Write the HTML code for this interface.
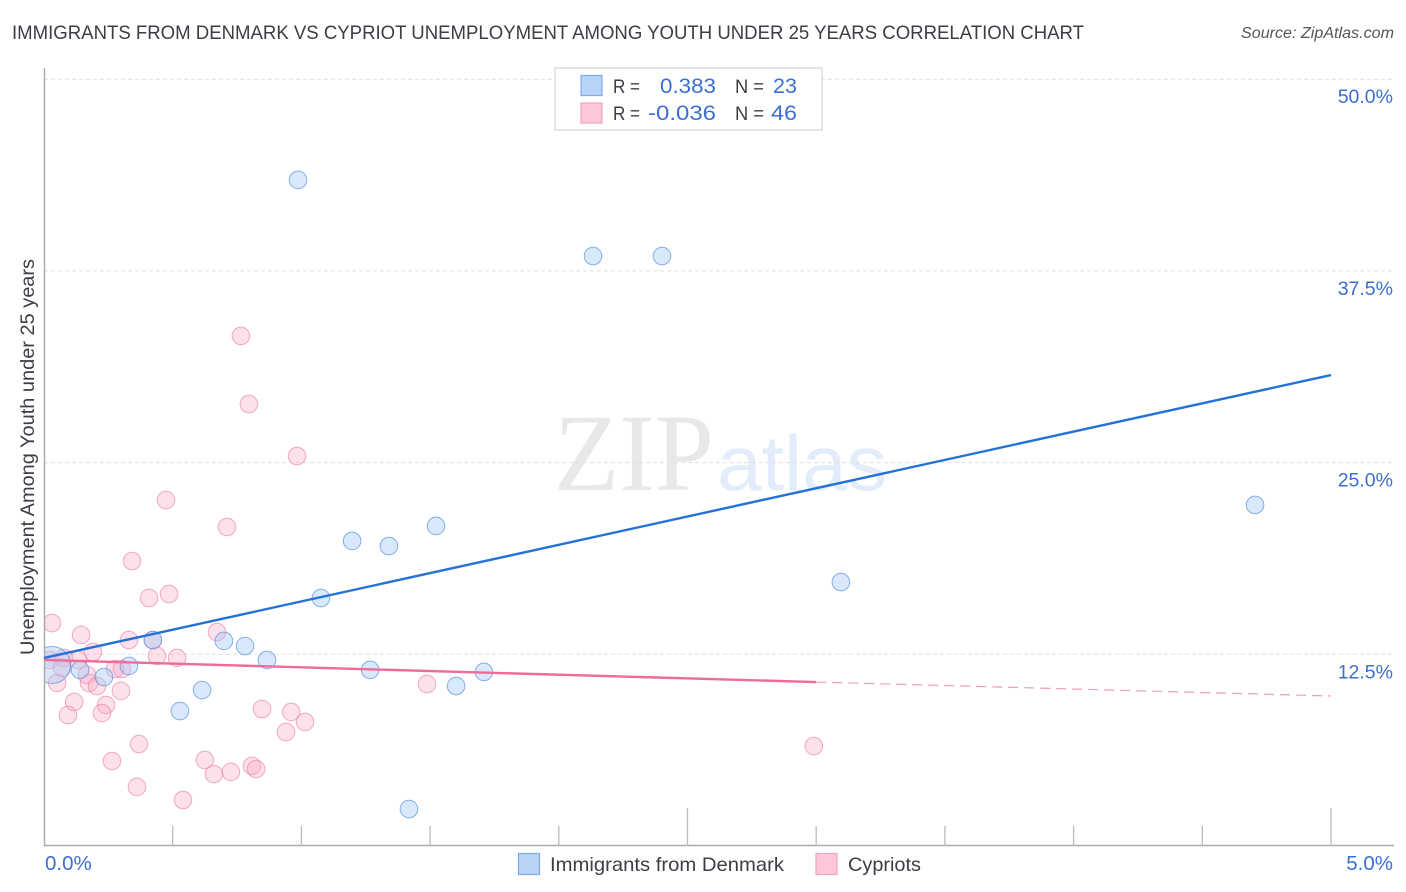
<!DOCTYPE html>
<html lang="en">
<head>
<meta charset="utf-8">
<title>Immigrants from Denmark vs Cypriot Unemployment Among Youth Under 25 Years Correlation Chart</title>
<style>
html,body{margin:0;padding:0;background:#fff;width:1406px;height:892px;overflow:hidden}
svg{display:block}
text{font-family:"Liberation Sans",sans-serif}
</style>
</head>
<body>
<svg id="chart" xmlns="http://www.w3.org/2000/svg" width="1406" height="892" viewBox="0 0 1406 892">
  <text x="12" y="39" font-size="19.5" fill="#3a3e45" textLength="1072" lengthAdjust="spacingAndGlyphs">IMMIGRANTS FROM DENMARK VS CYPRIOT UNEMPLOYMENT AMONG YOUTH UNDER 25 YEARS CORRELATION CHART</text>
  <text x="1241" y="38" font-size="15.5" font-style="italic" fill="#555" textLength="153" lengthAdjust="spacingAndGlyphs">Source: ZipAtlas.com</text>

  <g>
    <text x="554" y="490" font-size="110" fill="#e8e8e8" textLength="160" lengthAdjust="spacingAndGlyphs" style="font-family:'Liberation Serif',serif">ZIP</text>
    <text x="717" y="490" font-size="78" fill="#e2ecfa" textLength="170" lengthAdjust="spacingAndGlyphs">atlas</text>
  </g>

  <g id="grid"></g>
  <g id="points"></g>
  <rect x="0" y="60" width="44" height="786" fill="#fff"/>
  <g id="axes"></g>
  <g id="trends"></g>

  <text transform="translate(34,457) rotate(-90)" font-size="19" fill="#3a3e45" text-anchor="middle" textLength="396" lengthAdjust="spacingAndGlyphs">Unemployment Among Youth under 25 years</text>

  <g>
    <rect x="555" y="68" width="267" height="62" fill="#fff" stroke="#ddd" stroke-width="1.5"/>
    <rect x="581" y="75.500" width="21" height="20" fill="#b9d4f7" stroke="#7fabe6" stroke-width="1.2"/>
    <rect x="581" y="103" width="21" height="20" fill="#fcc8d9" stroke="#f0a3bd" stroke-width="1.2"/>
    <text x="613" y="93" font-size="19" fill="#3a3e45" textLength="27" lengthAdjust="spacingAndGlyphs">R =</text>
    <text x="660" y="93" font-size="21" fill="#3b6fd4" textLength="56" lengthAdjust="spacingAndGlyphs">0.383</text>
    <text x="735" y="93" font-size="19" fill="#3a3e45" textLength="29" lengthAdjust="spacingAndGlyphs">N =</text>
    <text x="773" y="93" font-size="21" fill="#3b6fd4" textLength="24" lengthAdjust="spacingAndGlyphs">23</text>
    <text x="613" y="120" font-size="19" fill="#3a3e45" textLength="27" lengthAdjust="spacingAndGlyphs">R =</text>
    <text x="648" y="120" font-size="21" fill="#3b6fd4" textLength="68" lengthAdjust="spacingAndGlyphs">-0.036</text>
    <text x="735" y="120" font-size="19" fill="#3a3e45" textLength="29" lengthAdjust="spacingAndGlyphs">N =</text>
    <text x="771" y="120" font-size="21" fill="#3b6fd4" textLength="26" lengthAdjust="spacingAndGlyphs">46</text>
  </g>

  <g>
    <g>
      <rect x="518.500" y="853.500" width="21" height="21" fill="#b9d4f7" stroke="#7fabe6" stroke-width="1.2"/>
      <text x="550" y="871" font-size="19.5" fill="#3a3e45" textLength="234" lengthAdjust="spacingAndGlyphs">Immigrants from Denmark</text>
    </g>
    <g>
      <rect x="816" y="853.500" width="21" height="21" fill="#fcc8d9" stroke="#f0a3bd" stroke-width="1.2"/>
      <text x="848" y="871" font-size="19.5" fill="#3a3e45" textLength="73" lengthAdjust="spacingAndGlyphs">Cypriots</text>
    </g>
  </g>
</svg>
<script>
const yTickValues = [12.5, 25, 37.5, 50];
const yTickLabels = ['12.5%', '25.0%', '37.5%', '50.0%'];
const xTickValues = [0.5, 1, 1.5, 2, 2.5, 3, 3.5, 4, 4.5, 5];
const xMajorTicks = [2.5, 5];
const xEndValues = [0, 5];
const xEndLabels = ['0.0%', '5.0%'];

const denmarkX = [0.987, 2.133, 2.401, 4.705, 3.096, 1.523, 1.197, 1.340, 1.076, 0.423, 0.699, 0.781, 0.866, 0.330, 0.140, 0.233, 0.614, 0.528, 1.267, 1.601, 1.709, 1.418, 0.031];
const denmarkY = [43.43, 38.47, 38.47, 22.24, 17.21, 20.87, 19.89, 19.56, 16.17, 13.43, 13.37, 13.04, 12.13, 11.74, 11.48, 11.02, 10.17, 8.80, 11.48, 10.43, 11.35, 2.41, 11.80];
const denmarkWeight = [1, 1, 1, 1, 1, 1, 1, 1, 1, 1, 1, 1, 1, 1, 1, 1, 1, 1, 1, 1, 1, 1, 2.1];

const cypriotsX = [0.765, 0.796, 0.983, 0.474, 0.711, 0.342, 0.486, 0.408, 0.031, 0.144, 0.330, 0.423, 0.672, 0.190, 0.439, 0.517, 0.078, 0.132, 0.023, 0.070, 0.051, 0.276, 0.303, 0.167, 0.175, 0.206, 0.299, 0.117, 0.093, 0.241, 0.225, 0.847, 0.960, 1.014, 0.940, 0.369, 0.264, 0.625, 0.660, 0.726, 0.808, 0.824, 0.361, 0.540, 1.488, 2.991];
const cypriotsY = [33.26, 28.82, 25.43, 22.56, 20.80, 18.58, 16.43, 16.17, 14.54, 13.76, 13.43, 13.43, 13.95, 12.65, 12.39, 12.26, 12.26, 12.13, 12.13, 11.61, 10.63, 11.54, 11.54, 11.15, 10.63, 10.43, 10.11, 9.39, 8.54, 9.19, 8.67, 8.93, 8.74, 8.09, 7.43, 6.65, 5.54, 5.61, 4.69, 4.83, 5.22, 5.02, 3.85, 3.00, 10.56, 6.52];

const denmarkTrendX = [0, 5];
const denmarkTrendY = [12.26, 30.71];
const cypriotsTrendX = [0, 3];
const cypriotsTrendY = [12.13, 10.69];
const cypriotsDashX = [3, 5];
const cypriotsDashY = [10.69, 9.78];

const NS = 'http://www.w3.org/2000/svg';
function X(v) { return 44 + v * 257.4; }
function Y(v) { return 846 - v * 15.336; }
function mk(parent, tag, attrs, txt) {
  const el = document.createElementNS(NS, tag);
  for (const k in attrs) el.setAttribute(k, attrs[k]);
  if (txt !== undefined) el.textContent = txt;
  parent.appendChild(el);
  return el;
}

const grid = document.getElementById('grid');
const axes = document.getElementById('axes');
const points = document.getElementById('points');
const trends = document.getElementById('trends');

yTickValues.forEach(function (v, i) {
  const line = mk(grid, 'line', {x1: 44, x2: 1393, y1: Y(v), y2: Y(v), stroke: '#e0e0e0', 'stroke-width': 1, 'stroke-dasharray': '4 3'});
  
  
  const label = mk(axes, 'text', {x: 1393, y: Y(v) + 24, 'font-size': 19.5, fill: '#3b6fd4', 'text-anchor': 'end'}, yTickLabels[i]);
  
  
});

const yAxis = mk(axes, 'line', {x1: 44.5, x2: 44.5, y1: 68, y2: 846, stroke: '#aaa', 'stroke-width': 1.5});


const xAxis = mk(axes, 'line', {x1: 44, x2: 1394, y1: 845.5, y2: 845.5, stroke: '#aaa', 'stroke-width': 1.5});



xTickValues.forEach(function (v) {
  const top = xMajorTicks.indexOf(v) >= 0 ? 808 : 826;
  const tick = mk(axes, 'line', {x1: X(v), x2: X(v), y1: top, y2: 846, stroke: '#bbb', 'stroke-width': 1.3});
  
  
});

xEndValues.forEach(function (v, i) {
  const isFirst = i === 0;
  const label = mk(axes, 'text', {x: isFirst ? X(v) + 1 : 1393, y: 870, 'font-size': 20.5, fill: '#3b6fd4', 'text-anchor': isFirst ? 'start' : 'end'}, xEndLabels[i]);
  
  
});

cypriotsX.forEach(function (v, i) {
  const c = mk(points, 'circle', {cx: X(v), cy: Y(cypriotsY[i]), r: 8.8, fill: 'rgba(247,170,195,0.35)', stroke: 'rgba(232,120,160,0.6)', 'stroke-width': 1});
  
  
});

denmarkX.forEach(function (v, i) {
  const c = mk(points, 'circle', {cx: X(v), cy: Y(denmarkY[i]), r: 8.8 * denmarkWeight[i], fill: 'rgba(165,200,245,0.42)', stroke: 'rgba(90,145,220,0.7)', 'stroke-width': 1});
  
  
});

const denmarkLine = mk(trends, 'line', {x1: X(denmarkTrendX[0]), y1: Y(denmarkTrendY[0]), x2: X(denmarkTrendX[1]), y2: Y(denmarkTrendY[1]), stroke: '#2472d8', 'stroke-width': 2.4});



const cypriotsLine = mk(trends, 'line', {x1: X(cypriotsTrendX[0]), y1: Y(cypriotsTrendY[0]), x2: X(cypriotsTrendX[1]), y2: Y(cypriotsTrendY[1]), stroke: '#ee6b9c', 'stroke-width': 2.4});



const cypriotsDash = mk(trends, 'line', {x1: X(cypriotsDashX[0]), y1: Y(cypriotsDashY[0]), x2: X(cypriotsDashX[1]), y2: Y(cypriotsDashY[1]), stroke: '#ee9dbb', 'stroke-width': 1.2, 'stroke-dasharray': '10 6'});


</script>
</body>
</html>
